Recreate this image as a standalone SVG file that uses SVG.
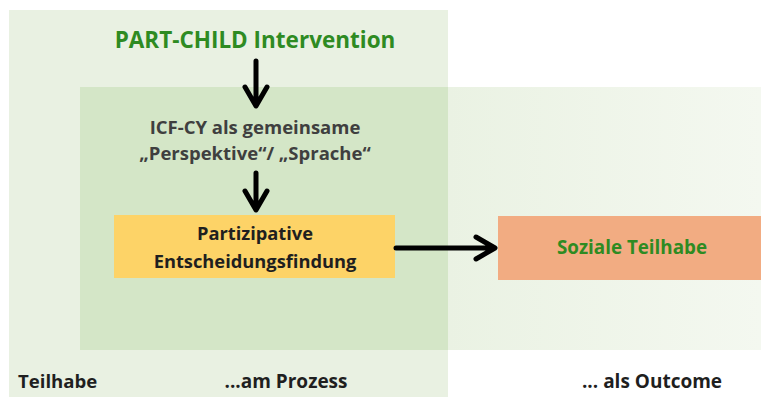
<svg xmlns="http://www.w3.org/2000/svg" width="761" height="397" viewBox="0 0 761 397">
<defs>
<linearGradient id="innerR" x1="0" y1="0" x2="1" y2="0">
<stop offset="0" stop-color="#eaf2e3"/>
<stop offset="1" stop-color="#f4f8f0"/>
</linearGradient>
<style>
.t{font-family:"Open Sans","Noto Sans",sans-serif;font-weight:bold;text-anchor:middle}
.g{fill:#2e8b22}
.d{fill:#3f3f3f}
.k{fill:#1f1f1f}
.arr{stroke:#000;stroke-width:5;fill:none;stroke-linecap:round;stroke-linejoin:round}
</style>
</defs>
<rect width="761" height="397" fill="#ffffff"/>
<rect id="outer" x="9" y="10" width="439" height="387" fill="#e9f1e2"/>
<rect id="inner-left" x="80" y="87" width="368" height="263" fill="#d4e6c7"/>
<rect id="inner-right" x="448" y="87" width="313" height="263" fill="url(#innerR)"/>
<g id="n-intervention"><text class="t g" x="255" y="48" font-size="22.5">PART-CHILD Intervention</text></g>
<g id="n-icf"><text class="t d" x="255" y="134" font-size="18.5">ICF-CY als gemeinsame</text><text class="t d" x="255" y="160" font-size="18.5">„Perspektive“/ „Sprache“</text></g>
<g id="n-partizipative"><rect x="114" y="215" width="281" height="63" fill="#fdd367"/><text class="t k" x="255" y="240" font-size="18.3">Partizipative</text><text class="t k" x="255" y="268" font-size="18.3">Entscheidungsfindung</text></g>
<g id="n-soziale"><rect x="498" y="216" width="263" height="64" fill="#f2ac82"/><text class="t g" x="632" y="254" font-size="18.8">Soziale Teilhabe</text></g>
<g id="labels"><text class="t k" x="18" y="388" font-size="18.6" style="text-anchor:start">Teilhabe</text><text class="t k" x="286" y="388" font-size="19">...am Prozess</text><text class="t k" x="652" y="388" font-size="19">... als Outcome</text></g>
<g id="connectors">
<path class="arr" d="M256 61V105M245 87L256 106L267 87"/>
<path class="arr" d="M256 173V209M245 191L256 210L267 191"/>
<path class="arr" d="M396 248H494M476 237L495 248L476 259"/>
</g>
</svg>
